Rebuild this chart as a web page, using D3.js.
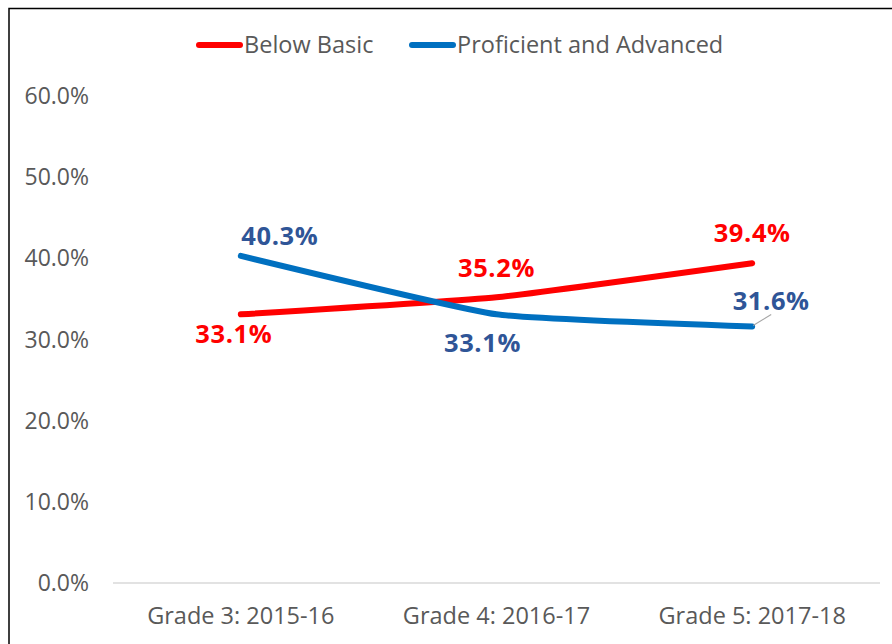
<!DOCTYPE html>
<html>
<head>
<meta charset="utf-8">
<script src="https://cdn.jsdelivr.net/npm/d3@7"></script>
<style>
  body { margin: 0; background: #fff; }
  svg { display: block; font-family: "Open Sans", sans-serif; }
</style>
</head>
<body>
<div id="chart"></div>
<script>
// data
var grades = ['Grade 3: 2015-16', 'Grade 4: 2016-17', 'Grade 5: 2017-18'];
var belowBasic = [33.1, 35.2, 39.4];
var proficient = [40.3, 33.1, 31.6];
var yTicks = [0, 10, 20, 30, 40, 50, 60];
var seriesNames = ['Below Basic', 'Proficient and Advanced'];

var width = 892;
var height = 644;

var svg = d3.select('#chart')
    .append('svg')
    .attr('width', width)
    .attr('height', height);

// frame (top and left edges only show in the picture)
svg.append('path')
    .attr('d', 'M9,644 V8.5 H892')
    .attr('fill', 'none')
    .attr('stroke', '#000')
    .attr('stroke-width', 1.5);

var x = d3.scaleBand()
    .domain(grades)
    .range([113, 880]);

var y = d3.scaleLinear()
    .domain([0, 60])
    .range([583, 96]);

// baseline
svg.append('line')
    .attr('x1', 113)
    .attr('x2', 880)
    .attr('y1', y(0))
    .attr('y2', y(0))
    .attr('stroke', '#d9d9d9')
    .attr('stroke-width', 1.5);

// y tick labels
svg.selectAll('.ytick')
    .data(yTicks)
    .enter()
    .append('text')
    .attr('class', 'ytick')
    .attr('x', 89)
    .attr('y', function(d) { return y(d) + 8; })
    .attr('text-anchor', 'end')
    .attr('font-size', 23)
    .attr('fill', '#595959')
    .text(function(d) { return d.toFixed(1) + '%'; });

// category labels
svg.selectAll('.xtick')
    .data(grades)
    .enter()
    .append('text')
    .attr('class', 'xtick')
    .attr('x', function(d) { return x(d) + x.bandwidth() / 2; })
    .attr('y', 624)
    .attr('text-anchor', 'middle')
    .attr('font-size', 23.5)
    .attr('fill', '#595959')
    .text(function(d) { return d; });

var cx = function(d, i) { return x(grades[i]) + x.bandwidth() / 2; };

var line = d3.line()
    .x(cx)
    .y(function(d) { return y(d); })
    .curve(d3.curveCardinal.tension(0.6));

var series = [
    { name: seriesNames[0], values: belowBasic, color: '#ff0000', labelColor: '#ff0000',
      // label offsets from each point (dx, dy of baseline)
      offsets: [[-7, 29], [0, -20], [0, -21]] },
    { name: seriesNames[1], values: proficient, color: '#0070c0', labelColor: '#2f5597',
      offsets: [[39, -11], [-14, 38], [19, -17]] }
];

series.forEach(function(s) {
    svg.append('path')
        .datum(s.values)
        .attr('d', line)
        .attr('fill', 'none')
        .attr('stroke', s.color)
        .attr('stroke-width', 6)
        .attr('stroke-linecap', 'round')
        .attr('stroke-linejoin', 'round');
});

// leader line for the last blue label
svg.append('line')
    .attr('x1', cx(null, 2) + 1)
    .attr('y1', y(proficient[2]) - 1)
    .attr('x2', cx(null, 2) + 19)
    .attr('y2', y(proficient[2]) - 12)
    .attr('stroke', '#a6a6a6')
    .attr('stroke-width', 1.2);

series.forEach(function(s) {
    svg.selectAll(null)
        .data(s.values)
        .enter()
        .append('text')
        .attr('x', function(d, i) { return cx(d, i) + s.offsets[i][0]; })
        .attr('y', function(d, i) { return y(d) + s.offsets[i][1]; })
        .attr('text-anchor', 'middle')
        .attr('font-size', 25.5)
        .attr('font-weight', 'bold')
        .attr('letter-spacing', 0.6)
        .attr('fill', s.labelColor)
        .text(function(d) { return d.toFixed(1) + '%'; });
});

// legend
var legendItems = [
    { name: seriesNames[0], color: '#ff0000', x: 197 },
    { name: seriesNames[1], color: '#0070c0', x: 410 }
];

var legend = svg.selectAll('.legend')
    .data(legendItems)
    .enter()
    .append('g')
    .attr('class', 'legend')
    .attr('transform', function(d) { return 'translate(' + d.x + ',45)'; });

legend.append('line')
    .attr('x1', 2)
    .attr('x2', 43)
    .attr('stroke', function(d) { return d.color; })
    .attr('stroke-width', 6)
    .attr('stroke-linecap', 'round');

legend.append('text')
    .attr('x', 47)
    .attr('y', 8)
    .attr('font-size', 23.5)
    .attr('fill', '#595959')
    .text(function(d) { return d.name; });
</script>
</body>
</html>
